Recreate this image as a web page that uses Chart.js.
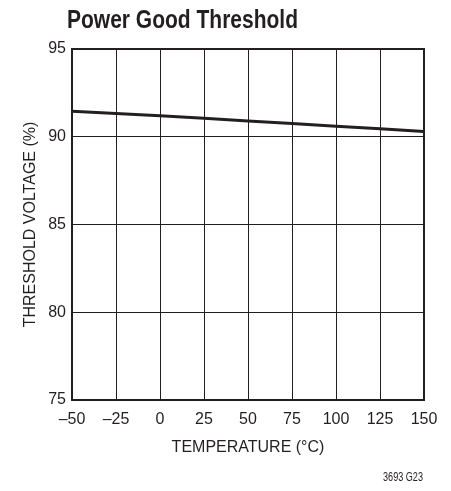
<!DOCTYPE html>
<html>
<head>
<meta charset="utf-8">
<script src="https://cdn.jsdelivr.net/npm/chart.js@4/dist/chart.umd.min.js"></script>
<style>
  html, body { margin: 0; padding: 0; background: #fff; }
  #wrap { width: 451px; height: 491px; }
</style>
</head>
<body>
<div id="wrap"><canvas id="grafico" width="451" height="491"></canvas></div>
<script>
// dados
const temperaturas = [-50, -25, 0, 25, 50, 75, 100, 125, 150];
const limiar = [91.45, 91.33, 91.2, 91.05, 90.9, 90.75, 90.6, 90.45, 90.3];
const xTickLabels = ['\u201350', '\u201325', '0', '25', '50', '75', '100', '125', '150'];
const yTickLabels = ['75', '80', '85', '90', '95'];

const FONTE = '"Liberation Sans", Arial, sans-serif';
const TINTA = '#231f20';

// texto condensado: escala horizontal para imitar a fonte estreita do original
function textoEstreito(ctx, texto, x, y, largura) {
    const w = ctx.measureText(texto).width;
    const k = Math.min(1, largura / w);
    ctx.save();
    ctx.translate(x, y);
    ctx.scale(k, 1);
    ctx.fillText(texto, 0, 0);
    ctx.restore();
}

// moldura, título e nota de rodapé
const textosExtras = {
    id: 'textosExtras',
    afterDraw(chart) {
        const ctx = chart.ctx;
        const a = chart.chartArea;
        ctx.save();
        ctx.strokeStyle = TINTA;
        ctx.lineWidth = 2;
        ctx.strokeRect(a.left, a.top, a.right - a.left, a.bottom - a.top);
        ctx.fillStyle = TINTA;
        ctx.textAlign = 'left';
        ctx.textBaseline = 'alphabetic';
        ctx.font = 'bold 25px ' + FONTE;
        textoEstreito(ctx, 'Power Good Threshold', 67, 28, 231);
        ctx.font = '12px ' + FONTE;
        textoEstreito(ctx, '3693 G23', 383, 481, 40);
        ctx.restore();
    }
};

const ctx = document.getElementById('grafico').getContext('2d');
new Chart(ctx, {
    type: 'line',
    data: {
        labels: temperaturas,
        datasets: [{
            data: temperaturas.map((t, i) => ({ x: t, y: limiar[i] })),
            borderColor: TINTA,
            borderWidth: 3,
            pointRadius: 0,
            tension: 0,
            fill: false
        }]
    },
    options: {
        responsive: false,
        animation: false,
        layout: { padding: { left: 0, right: 27, top: 49, bottom: 31 } },
        plugins: {
            legend: { display: false },
            tooltip: { enabled: false }
        },
        scales: {
            x: {
                type: 'linear',
                min: -50,
                max: 150,
                afterFit: (s) => { s.height = 60; },
                afterBuildTicks: (s) => { s.ticks = temperaturas.map(v => ({ value: v })); },
                ticks: {
                    color: TINTA,
                    font: { family: FONTE, size: 16 },
                    padding: 10,
                    maxRotation: 0,
                    callback: (v, i) => xTickLabels[i]
                },
                grid: { color: TINTA, lineWidth: 1, drawTicks: false },
                border: { color: TINTA, width: 2 },
                title: {
                    display: true,
                    text: 'TEMPERATURE (\u00B0C)',
                    color: TINTA,
                    font: { family: FONTE, size: 16 },
                    padding: { top: 0, bottom: 3 }
                }
            },
            y: {
                min: 75,
                max: 95,
                afterFit: (s) => { s.width = 72; },
                afterBuildTicks: (s) => { s.ticks = yTickLabels.map(v => ({ value: Number(v) })); },
                ticks: {
                    color: TINTA,
                    font: { family: FONTE, size: 16 },
                    padding: 6,
                    callback: (v, i) => yTickLabels[i]
                },
                grid: { color: TINTA, lineWidth: 1, drawTicks: false },
                border: { color: TINTA, width: 2 },
                title: {
                    display: true,
                    text: 'THRESHOLD VOLTAGE (%)',
                    color: TINTA,
                    font: { family: FONTE, size: 16 },
                    padding: { top: 21, bottom: 0 }
                }
            }
        }
    },
    plugins: [textosExtras]
});
</script>
</body>
</html>
